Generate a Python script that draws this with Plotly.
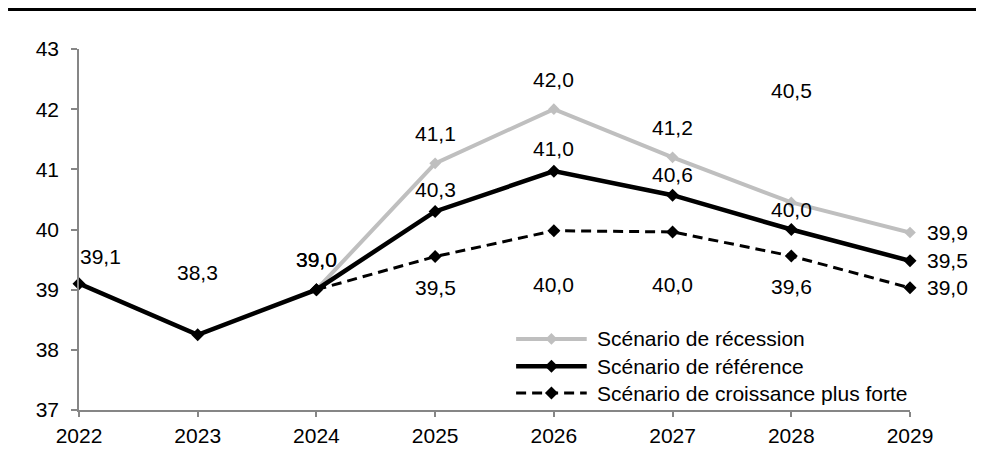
import plotly.graph_objects as go

years = [2022, 2023, 2024, 2025, 2026, 2027, 2028, 2029]

rec_years = [2024, 2025, 2026, 2027, 2028, 2029]
rec_values = [39.0, 41.1, 42.0, 41.2, 40.45, 39.95]
rec_labels = ["39,0", "41,1", "42,0", "41,2", "40,5", "39,9"]

ref_years = [2022, 2023, 2024, 2025, 2026, 2027, 2028, 2029]
ref_values = [39.1, 38.25, 39.0, 40.3, 40.97, 40.57, 40.0, 39.48]
ref_labels = ["39,1", "38,3", "39,0", "40,3", "41,0", "40,6", "40,0", "39,5"]

cro_years = [2024, 2025, 2026, 2027, 2028, 2029]
cro_values = [39.0, 39.55, 39.98, 39.96, 39.56, 39.03]
cro_labels = [None, "39,5", "40,0", "40,0", "39,6", "39,0"]

series_names = ["Scénario de récession", "Scénario de référence",
                "Scénario de croissance plus forte"]

y_ticks = [37, 38, 39, 40, 41, 42, 43]

FONT = "Liberation Sans, Arial, sans-serif"
FS = 21
GRAY = "#BFBFBF"
AXIS = "#868686"

# label offsets (pixels) relative to each point
rec_shift = {2024: (0, 30), 2025: (0, 30), 2026: (0, 30), 2027: (0, 30),
             2028: (0, 112), 2029: (37, 0)}
ref_shift = {2022: (21, 27), 2023: (0, 62), 2024: (0, 30), 2025: (0, 22),
             2026: (0, 23), 2027: (0, 21), 2028: (0, 20), 2029: (37, 0)}
cro_shift = {2025: (0, -31), 2026: (0, -54), 2027: (0, -53), 2028: (0, -31),
             2029: (37, 0)}

fig = go.Figure()

fig.add_trace(go.Scatter(x=rec_years, y=rec_values, mode="lines+markers",
                         line=dict(color=GRAY, width=4),
                         marker=dict(symbol="diamond", size=9, color=GRAY),
                         showlegend=False, cliponaxis=False))
fig.add_trace(go.Scatter(x=cro_years, y=cro_values, mode="lines+markers",
                         line=dict(color="black", width=3, dash="10px,6px"),
                         marker=dict(symbol="diamond", size=10, color="black"),
                         showlegend=False, cliponaxis=False))
fig.add_trace(go.Scatter(x=ref_years, y=ref_values, mode="lines+markers",
                         line=dict(color="black", width=4.5),
                         marker=dict(symbol="diamond", size=10, color="black"),
                         showlegend=False, cliponaxis=False))

# legend drawn on an overlay axis (fractions of the plot area)
leg_x = [0.526, 0.5685, 0.611]
leg_rows = [0.197, 0.121, 0.047]
leg_styles = [
    (dict(color=GRAY, width=4), dict(symbol="diamond", size=9, color=GRAY)),
    (dict(color="black", width=4.5), dict(symbol="diamond", size=10, color="black")),
    (dict(color="black", width=3, dash="10px,6px"), dict(symbol="diamond", size=10, color="black")),
]
for name, yrow, (ln, mk) in zip(series_names, leg_rows, leg_styles):
    fig.add_trace(go.Scatter(x=leg_x, y=[yrow] * 3, mode="lines", line=ln,
                             xaxis="x2", yaxis="y2", showlegend=False, hoverinfo="skip"))
    fig.add_trace(go.Scatter(x=[leg_x[1]], y=[yrow], mode="markers", marker=mk,
                             xaxis="x2", yaxis="y2", showlegend=False, hoverinfo="skip"))
    fig.add_annotation(x=0.621, y=yrow, xref="paper", yref="paper", text=name,
                       showarrow=False, xanchor="left", yanchor="middle",
                       font=dict(family=FONT, size=FS, color="black"))


def label(x, y, t, shift):
    if t is None:
        return
    xs, ys = shift
    fig.add_annotation(x=x, y=y, xref="x", yref="y", text=t, showarrow=False,
                       xshift=xs, yshift=ys, xanchor="center", yanchor="middle",
                       font=dict(family=FONT, size=FS, color="black"))


for x, y, t in zip(rec_years, rec_values, rec_labels):
    label(x, y, t, rec_shift[x])
for x, y, t in zip(ref_years, ref_values, ref_labels):
    label(x, y, t, ref_shift[x])
for x, y, t in zip(cro_years, cro_values, cro_labels):
    label(x, y, t, cro_shift.get(x, (0, 0)))

fig.add_shape(type="line", xref="paper", yref="paper", x0=-0.0854, x1=1.08,
              y0=1.1108, y1=1.1108, line=dict(color="black", width=4))

fig.update_layout(
    width=968, height=443,
    margin=dict(l=71, r=66, t=41, b=41, autoexpand=False),
    paper_bgcolor="white", plot_bgcolor="white",
    font=dict(family=FONT, size=FS, color="black"),
    showlegend=False,
    xaxis=dict(range=[2022, 2029], tickmode="array", tickvals=years,
               ticktext=[str(y) for y in years], showgrid=False, zeroline=False,
               showline=True, linecolor=AXIS, linewidth=1.5,
               ticks="outside", ticklen=5, tickcolor=AXIS, tickwidth=1.5,
               ticklabelstandoff=1, automargin=False,
               tickfont=dict(family=FONT, size=FS, color="black")),
    yaxis=dict(range=[37, 43], tickmode="array", tickvals=y_ticks,
               showgrid=False, zeroline=False,
               showline=True, linecolor=AXIS, linewidth=1.5,
               ticks="outside", ticklen=6, tickcolor=AXIS, tickwidth=1.5,
               ticklabelstandoff=8, automargin=False,
               tickfont=dict(family=FONT, size=FS, color="black")),
    xaxis2=dict(overlaying="x", range=[0, 1], visible=False, anchor="y2"),
    yaxis2=dict(overlaying="y", range=[0, 1], visible=False, anchor="x2"),
)

fig.write_html("out.html")
